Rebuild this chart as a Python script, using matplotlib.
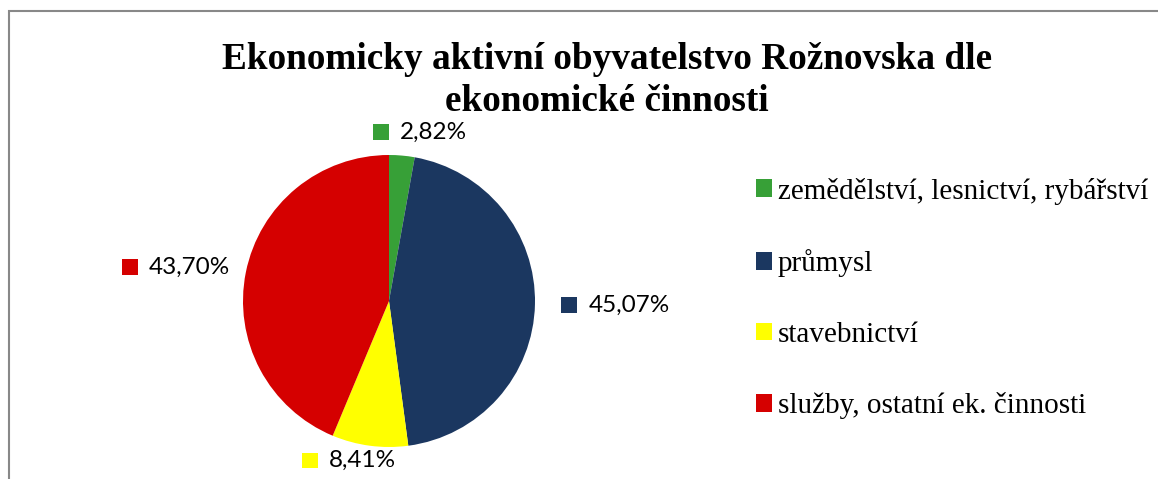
import numpy as np
import matplotlib
matplotlib.use("Agg")
import matplotlib.pyplot as plt
from matplotlib.patches import Patch, Rectangle
from matplotlib.offsetbox import AnnotationBbox, HPacker, TextArea, DrawingArea

# Data
kategorie = ['zemědělství, lesnictví, rybářství', 'průmysl', 'stavebnictví',
             'služby, ostatní ek. činnosti']
podily = [2.82, 45.07, 8.41, 43.70]
popisky = ['2,82%', '45,07%', '8,41%', '43,70%']
barvy = ['#37A037', '#1B3760', '#FFFF00', '#D50000']
# vzdalenost popisku od stredu (v polomerech)
odstup = [1.09, 1.18, 1.03, 1.11]

W, H = 1158, 479
fig = plt.figure(figsize=(W / 100, H / 100), dpi=100)

# ramecek grafu
fig.patches.append(Rectangle((9 / W, -0.1), 1.2, (H - 11) / H + 0.1, transform=fig.transFigure,
                             fill=False, edgecolor='#888888', lw=1.5))

fig.text(607 / W, 1 - 80.5 / H, 'Ekonomicky aktivní obyvatelstvo Rožnovska dle\nekonomické činnosti',
         ha='center', va='center', fontsize=26.8, fontweight='bold', family='Liberation Serif',
         linespacing=1.25)

# kolac
cx, cy, r = 389, 301, 146
box = 200
ax = fig.add_axes([(cx - box) / W, (H - cy - box) / H, 2 * box / W, 2 * box / H])
wedges, _ = ax.pie(podily, colors=barvy, startangle=90, counterclock=False, radius=1)
ax.set_xlim(-box / r, box / r)
ax.set_ylim(-box / r, box / r)
ax.set_aspect('equal')
ax.axis('off')

for w, lab, c, d in zip(wedges, popisky, barvy, odstup):
    th = np.deg2rad((w.theta1 + w.theta2) / 2)
    da = DrawingArea(11.5, 11.5, 0, 0)
    da.add_artist(Rectangle((0, 0), 11.5, 11.5, facecolor=c, edgecolor='none'))
    ta = TextArea(lab, textprops=dict(fontsize=17.5, family='Lato', color='black'))
    pack = HPacker(children=[da, ta], align='center', pad=0, sep=8)
    cs, sn = np.cos(th), np.sin(th)
    bx = 0.5 * (1 - np.sign(cs) * np.sqrt(abs(cs)) * 1.2)
    by = 0.5 * (1 - sn)
    ab = AnnotationBbox(pack, (d * cs, d * sn), xycoords='data',
                        box_alignment=(min(max(bx, 0), 1), by), frameon=False, pad=0)
    ax.add_artist(ab)

handles = [Patch(facecolor=c, edgecolor='none') for c in barvy]
fig.legend(handles, kategorie, loc='center left', bbox_to_anchor=(756 / W, 1 - 298.5 / H),
           frameon=False, prop=dict(family='Liberation Serif', size=21),
           handlelength=0.55, handleheight=0.55, handletextpad=0.2,
           labelspacing=1.53, borderpad=0, borderaxespad=0)

fig.savefig('out.png', dpi=100)
